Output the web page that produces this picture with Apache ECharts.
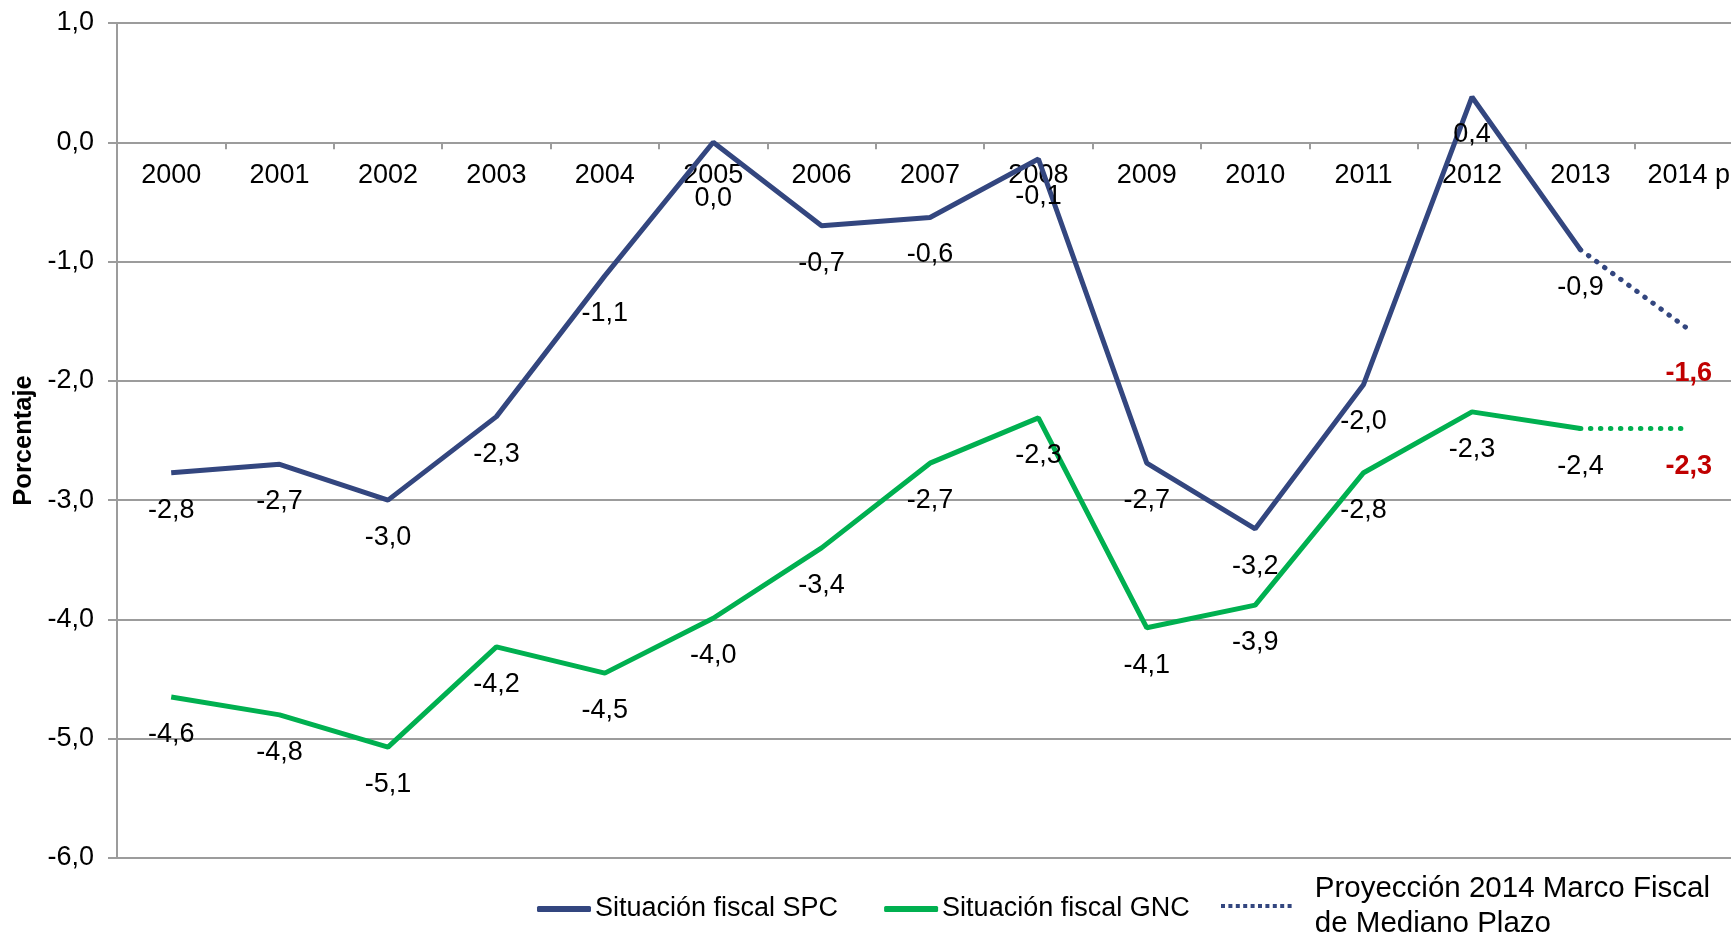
<!DOCTYPE html>
<html>
<head>
<meta charset="utf-8">
<script src="https://cdn.jsdelivr.net/npm/echarts@6/dist/echarts.min.js"></script>
<style>
  html, body { margin: 0; padding: 0; background: #fff; }
  #chart { width: 1731px; height: 932px; }
</style>
</head>
<body>
<div id="chart"></div>
<script>
const years = ['2000', '2001', '2002', '2003', '2004', '2005', '2006', '2007', '2008', '2009', '2010', '2011', '2012', '2013', '2014 p']
const spc = [-2.77, -2.7, -3.0, -2.3, -1.12, 0.0, -0.7, -0.63, -0.14, -2.69, -3.24, -2.03, 0.38, -0.9, null]
const gnc = [-4.65, -4.8, -5.07, -4.23, -4.45, -3.99, -3.4, -2.69, -2.31, -4.07, -3.88, -2.77, -2.26, -2.4, null]
const spcLabels = ['-2,8', '-2,7', '-3,0', '-2,3', '-1,1', '0,0', '-0,7', '-0,6', '-0,1', '-2,7', '-3,2', '-2,0', '0,4', '-0,9']
const gncLabels = ['-4,6', '-4,8', '-5,1', '-4,2', '-4,5', '-4,0', '-3,4', '-2,7', '-2,3', '-4,1', '-3,9', '-2,8', '-2,3', '-2,4']
const projSpc = [null, null, null, null, null, null, null, null, null, null, null, null, null, -0.9, -1.57]
const projGnc = [null, null, null, null, null, null, null, null, null, null, null, null, null, -2.4, -2.4]
const projSpcLabels = ['', '', '', '', '', '', '', '', '', '', '', '', '', '', '-1,6']
const projGncLabels = ['', '', '', '', '', '', '', '', '', '', '', '', '', '', '-2,3']
const yMin = -6
const yMax = 1
const yStep = 1

const FONT = 'Arial, "Liberation Sans", sans-serif'
const NAVY = '#33467F'
const GREEN = '#00B050'
const GRID = '#9C9C9C'
const gridTop = 23
const gridHeight = 835

// dotted icon for the projection legend entry
let dots = 'path://'
for (let i = 0; i < 10; i++) dots += 'M' + (i * 7.4) + ',0h4v4h-4z '

const chart = echarts.init(document.getElementById('chart'))

function labelOpts(texts, color, bold) {
  return {
    show: true,
    position: 'bottom',
    distance: 24,
    color: color,
    fontSize: 27,
    fontFamily: FONT,
    fontWeight: bold ? 'bold' : 'normal',
    formatter: (p) => texts[p.dataIndex] || ''
  }
}

// some labels were nudged by hand in the original
function withLabelNudge(values, idx, dist) {
  return values.map((v, i) => (i === idx ? { value: v, label: { distance: dist } } : v))
}

const legendText = { color: '#000', fontSize: 27, fontFamily: FONT, lineHeight: 32, padding: [0, 0, 0, -1] }

chart.setOption({
  animation: false,
  grid: {
    left: 117, top: gridTop, width: 1626, height: gridHeight,
    containLabel: false, outerBoundsMode: 'none'
  },
  legend: [
    {
      left: 532,
      top: 888,
      itemWidth: 54,
      itemHeight: 6,
      itemGap: 46,
      textStyle: legendText,
      data: [
        { name: 'Situación fiscal SPC', icon: 'roundRect' },
        { name: 'Situación fiscal GNC', icon: 'roundRect' }
      ]
    },
    {
      left: 1216,
      top: 866,
      itemWidth: 71,
      itemHeight: 4,
      textStyle: Object.assign({}, legendText, { fontSize: 29.5, lineHeight: 35, padding: [0, 0, 0, 18] }),
      data: [{ name: 'Proyección 2014 Marco Fiscal\nde Mediano Plazo', icon: dots }]
    }
  ],
  xAxis: {
    type: 'category',
    data: years,
    position: 'top',
    offset: -(gridHeight * yMax / (yMax - yMin)),
    boundaryGap: true,
    axisLine: { onZero: false, lineStyle: { color: GRID, width: 2 } },
    axisTick: { show: true, inside: true, length: 7, lineStyle: { color: GRID, width: 2 } },
    axisLabel: { inside: true, color: '#000', fontSize: 27, fontFamily: FONT, margin: 20 }
  },
  yAxis: {
    type: 'value',
    min: yMin,
    max: yMax,
    interval: yStep,
    name: 'Porcentaje',
    nameLocation: 'middle',
    nameGap: 69,
    nameTextStyle: { color: '#000', fontSize: 25.5, fontWeight: 'bold', fontFamily: FONT },
    axisLine: { show: true, lineStyle: { color: GRID, width: 2 } },
    axisTick: { show: true, length: 9, lineStyle: { color: GRID, width: 2 } },
    axisLabel: {
      color: '#000', fontSize: 27, fontFamily: FONT, margin: 23,
      formatter: (v) => v.toFixed(1).replace('.', ',')
    },
    splitLine: { lineStyle: { color: GRID, width: 2 } }
  },
  series: [
    {
      name: 'Situación fiscal SPC',
      type: 'line',
      data: withLabelNudge(spc, 5, 43),
      symbol: 'circle',
      symbolSize: 0,
      lineStyle: { color: NAVY, width: 5 },
      itemStyle: { color: NAVY },
      label: labelOpts(spcLabels, '#000', false),
      z: 3
    },
    {
      name: 'Situación fiscal GNC',
      type: 'line',
      data: gnc,
      symbol: 'circle',
      symbolSize: 0,
      lineStyle: { color: GREEN, width: 5 },
      itemStyle: { color: GREEN },
      label: labelOpts(gncLabels, '#000', false),
      z: 3
    },
    {
      name: 'Proyección 2014 Marco Fiscal\nde Mediano Plazo',
      type: 'line',
      data: withLabelNudge(projSpc, 14, 30),
      symbol: 'circle',
      symbolSize: 0,
      lineStyle: { color: NAVY, width: 5, type: [0.5, 9.5], cap: 'round' },
      itemStyle: { color: NAVY },
      label: labelOpts(projSpcLabels, '#C00000', true),
      z: 3
    },
    {
      name: 'proyGnc',
      type: 'line',
      data: projGnc,
      symbol: 'circle',
      symbolSize: 0,
      lineStyle: { color: GREEN, width: 5, type: [0.5, 9.5], cap: 'round' },
      itemStyle: { color: GREEN },
      label: labelOpts(projGncLabels, '#C00000', true),
      z: 3
    }
  ]
})
</script>
</body>
</html>
